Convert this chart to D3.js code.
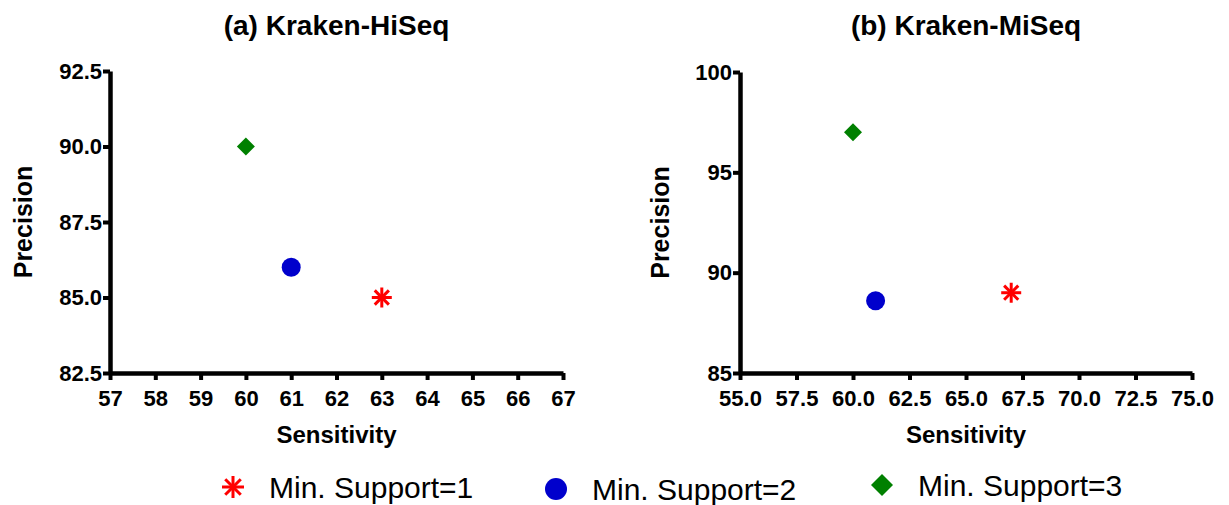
<!DOCTYPE html>
<html>
<head>
<meta charset="utf-8">
<script src="https://cdn.jsdelivr.net/npm/d3@7"></script>
<style>
  body { margin: 0; background: #fff; }
  svg { font-family: "Liberation Sans", Arial, sans-serif; }
</style>
</head>
<body>
<div id="chart"></div>
<script>
// data
const seriesNames = ["Min. Support=1", "Min. Support=2", "Min. Support=3"];
const seriesColors = ["#ff0000", "#0000cc", "#008000"];
const seriesShapes = ["star", "circle", "diamond"];

const hiseqSensitivity = [63, 61, 60];
const hiseqPrecision = [85.0, 86.0, 90.0];
const miseqSensitivity = [67, 61, 60];
const miseqPrecision = [89.0, 88.6, 97.0];

const hiseqXTicks = [57, 58, 59, 60, 61, 62, 63, 64, 65, 66, 67];
const hiseqYTicks = [82.5, 85.0, 87.5, 90.0, 92.5];
const miseqXTicks = [55, 57.5, 60, 62.5, 65, 67.5, 70, 72.5, 75];
const miseqYTicks = [85, 90, 95, 100];

const width = 1229, height = 505;

const svg = d3.select("#chart").append("svg")
    .attr("width", width)
    .attr("height", height);

function drawMarker(g, shape, color, size) {
  if (shape === "circle") {
    g.append("circle").attr("r", size).attr("fill", color);
  } else if (shape === "diamond") {
    g.append("path")
      .attr("d", `M0,${-size}L${size},0L0,${size}L${-size},0Z`)
      .attr("fill", color);
  } else {
    [0, 45, 90, 135].forEach(a => {
      const r = a * Math.PI / 180;
      g.append("line")
        .attr("x1", -size * Math.cos(r)).attr("y1", -size * Math.sin(r))
        .attr("x2", size * Math.cos(r)).attr("y2", size * Math.sin(r))
        .attr("stroke", color).attr("stroke-width", 3);
    });
  }
}

function panel({title, xs, ys, xDomain, yDomain, xTicks, yTicks, xFmt, yFmt, left, right, top, bottom, yLabelX}) {
  const x = d3.scaleLinear().domain(xDomain).range([left, right]);
  const y = d3.scaleLinear().domain(yDomain).range([bottom, top]);

  const xAxis = svg.append("g")
      .attr("transform", `translate(0,${bottom})`)
      .call(d3.axisBottom(x).tickValues(xTicks).tickFormat(xFmt).tickSize(7).tickSizeOuter(0).tickPadding(10));
  const yAxis = svg.append("g")
      .attr("transform", `translate(${left},0)`)
      .call(d3.axisLeft(y).tickValues(yTicks).tickFormat(yFmt).tickSize(7).tickSizeOuter(0).tickPadding(1));

  [xAxis, yAxis].forEach(a => {
    a.attr("font-family", null).attr("font-size", null);
    a.select(".domain").attr("stroke", "#000").attr("stroke-width", 4.5);
    a.selectAll(".tick line").attr("stroke", "#000").attr("stroke-width", 4);
    a.selectAll(".tick text")
      .attr("fill", "#000")
      .style("font-size", "22px")
      .style("font-weight", "bold");
  });

  svg.append("text")
      .attr("x", (left + right) / 2).attr("y", 35)
      .attr("text-anchor", "middle")
      .style("font-size", "28px").style("font-weight", "bold")
      .text(title);

  svg.append("text")
      .attr("x", (left + right) / 2).attr("y", 443)
      .attr("text-anchor", "middle")
      .style("font-size", "24px").style("font-weight", "bold")
      .text("Sensitivity");

  svg.append("text")
      .attr("transform", `translate(${yLabelX},${(top + bottom) / 2}) rotate(-90)`)
      .attr("text-anchor", "middle")
      .attr("dy", "0.35em")
      .style("font-size", "25px").style("font-weight", "bold")
      .text("Precision");

  xs.forEach((v, i) => {
    const g = svg.append("g").attr("transform", `translate(${x(v)},${y(ys[i])})`);
    drawMarker(g, seriesShapes[i], seriesColors[i], seriesShapes[i] === "diamond" ? 9 : seriesShapes[i] === "circle" ? 9.5 : 10);
  });
}

panel({
  title: "(a) Kraken-HiSeq",
  xs: hiseqSensitivity, ys: hiseqPrecision,
  xDomain: [57, 67], yDomain: [82.5, 92.5],
  xTicks: hiseqXTicks, yTicks: hiseqYTicks,
  xFmt: d3.format("d"), yFmt: d3.format(".1f"),
  left: 110, right: 563, top: 71, bottom: 373, yLabelX: 23
});

panel({
  title: "(b) Kraken-MiSeq",
  xs: miseqSensitivity, ys: miseqPrecision,
  xDomain: [55, 75], yDomain: [85, 100],
  xTicks: miseqXTicks, yTicks: miseqYTicks,
  xFmt: d3.format(".1f"), yFmt: d3.format("d"),
  left: 740, right: 1192, top: 72, bottom: 373, yLabelX: 660
});

// legend
const legendX = [233, 556, 882];
const legendY = [487, 489, 485];
const legend = svg.append("g");
seriesNames.forEach((name, i) => {
  const g = legend.append("g").attr("transform", `translate(${legendX[i]},${legendY[i]})`);
  drawMarker(g, seriesShapes[i], seriesColors[i], 11);
  g.append("text")
    .attr("x", 36).attr("y", 11)
    .style("font-size", "30px")
    .attr("fill", "#000")
    .text(name);
});
</script>
</body>
</html>
